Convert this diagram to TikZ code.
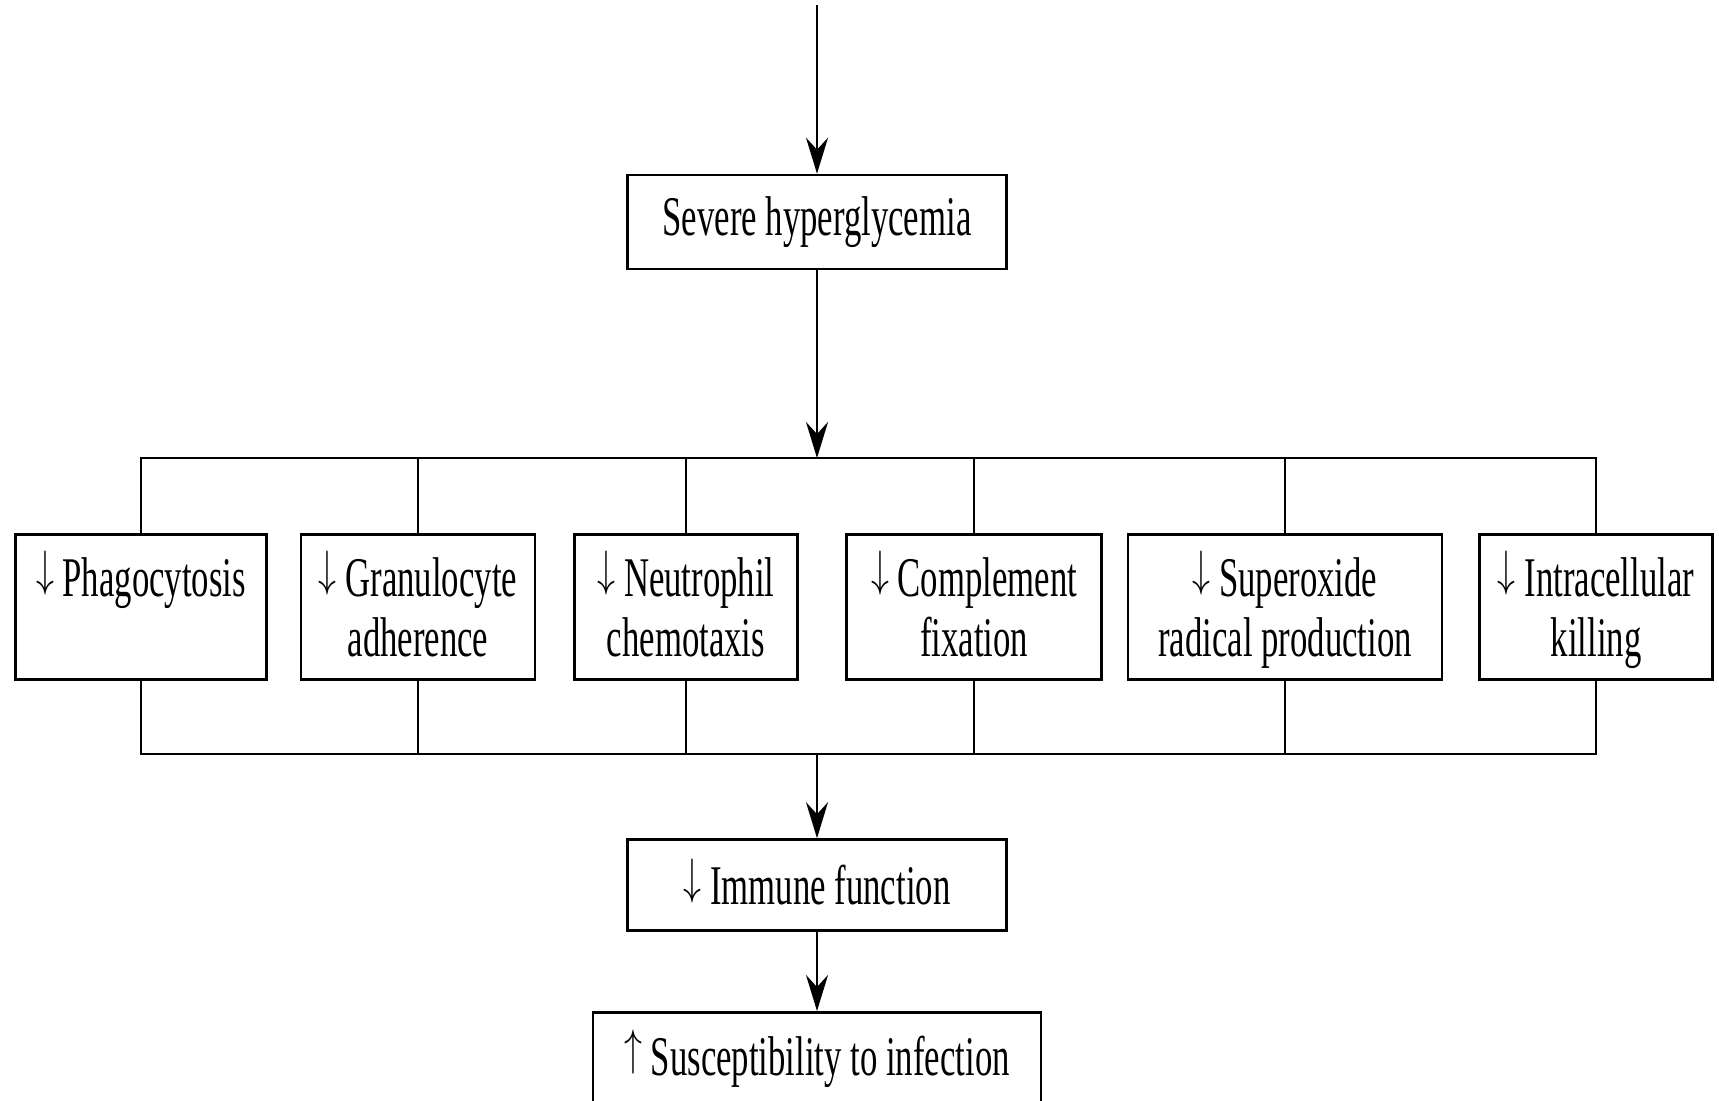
\documentclass[tikz,border=0pt]{standalone}
\usepackage{fontspec}
\usepackage{graphicx}
\setmainfont{Liberation Serif}[FakeStretch=0.62]
\usetikzlibrary{arrows.meta}
\newcommand{\nodepth}[1]{\smash{#1}}
\newcommand{\dn}{\raisebox{5.4pt}[0pt][0pt]{\scalebox{0.72}[1]{$\downarrow$}}}
\newcommand{\up}{\raisebox{5.4pt}[0pt][0pt]{\scalebox{0.72}[1]{$\uparrow$}}}

\begin{document}
\begin{tikzpicture}[x=0.5pt,y=-0.5pt,line width=1.2pt,
  box/.style={draw,line width=1.3pt,inner sep=2pt,align=center,
    font=\fontsize{28}{30}\selectfont},
  effect/.style={box,minimum height=72.5pt},
  flow/.style={-{Stealth[length=18pt,width=11pt,inset=6pt]}}]
  \useasboundingbox (0,0) rectangle (1719,1101);
  \clip (0,0) rectangle (1719,1101);
  % cause
  \coordinate (src) at (817,5);
  \node[box,minimum width=189.5pt,minimum height=47pt] (hyper) at (817,222) {Severe hyperglycemia};
  \draw[flow] (src) -- (hyper.north);
  % effects on the immune cells
  \node[effect,minimum width=125.5pt] (phago)   at (141,607)  {\dn\ Phagocytosis\\\mbox{}};
  \node[effect,minimum width=117pt]   (granu)   at (418,607)  {\dn\ Granulocyte\\adherence};
  \node[effect,minimum width=111.5pt] (neutro)  at (686,607)  {\dn\ Neutrophil\\chemotaxis};
  \node[effect,minimum width=127.5pt] (compl)   at (974,607)  {\dn\ Complement\\fixation};
  \node[effect,minimum width=157pt]   (superox) at (1285,607) {\dn\ Superoxide\\\nodepth{radical production}};
  \node[effect,minimum width=116.5pt] (intra)   at (1596,607) {\dn\ Intracellular\\\nodepth{killing}};
  \coordinate (tbus) at (817,458);
  \coordinate (bbus) at (817,754);
  \draw[flow] (hyper.south) -- (tbus);
  \draw (phago.north) |- (tbus) -| (intra.north);
  \draw (phago.south) |- (bbus) -| (intra.south);
  \foreach \n in {granu,neutro,compl,superox}{
    \draw (\n.north) -- (\n.north |- tbus);
    \draw (\n.south) -- (\n.south |- bbus);
  }
  % outcome
  \node[box,minimum width=189.5pt,minimum height=45.5pt] (immune) at (817,885) {\dn\ Immune function};
  \node[box,minimum width=224pt,inner ysep=12pt,anchor=north] (suscept) at (817,1011) {\up\ Susceptibility to infection};
  \draw[flow] (bbus) -- (immune.north);
  \draw[flow] (immune.south) -- (suscept.north);
\end{tikzpicture}
\end{document}
